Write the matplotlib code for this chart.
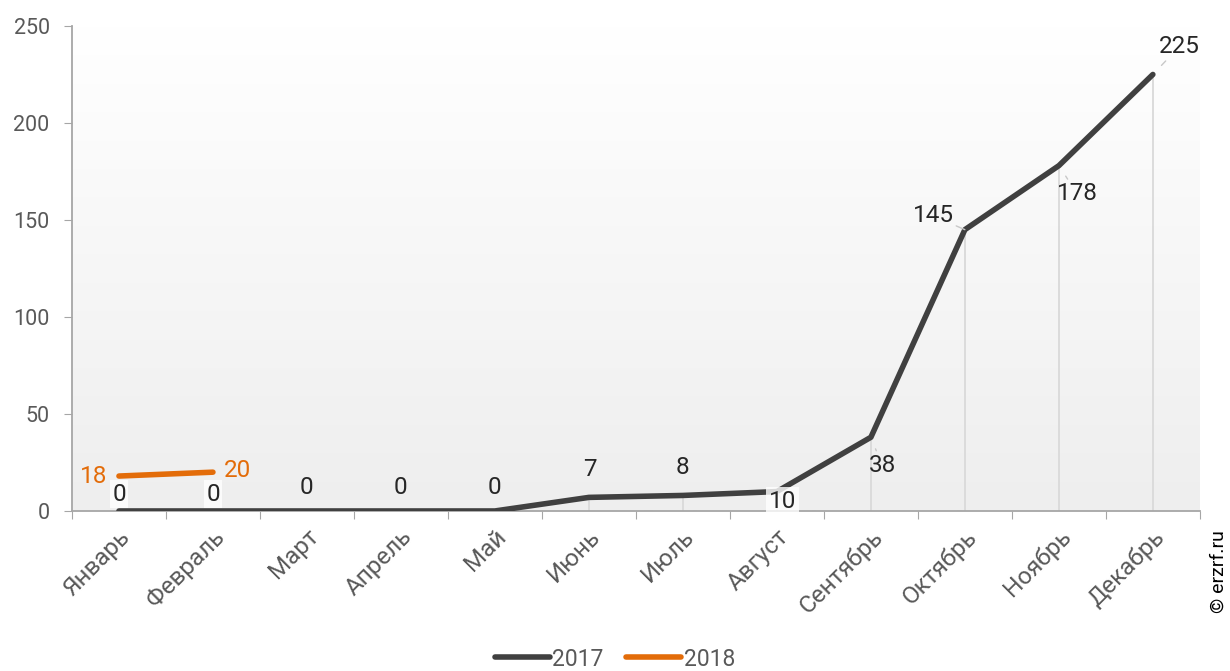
"""Ввод жилья по месяцам: 2017 vs 2018."""

import numpy as np
import matplotlib

matplotlib.use("Agg")
import matplotlib.pyplot as plt
from matplotlib.colors import LinearSegmentedColormap

plt.rcParams["font.family"] = ["Roboto", "DejaVu Sans"]

months = ["Январь", "Февраль", "Март", "Апрель", "Май", "Июнь",
          "Июль", "Август", "Сентябрь", "Октябрь", "Ноябрь", "Декабрь"]
values_2017 = [0, 0, 0, 0, 0, 7, 8, 10, 38, 145, 178, 225]
values_2018 = [18, 20]
y_ticks = [0, 50, 100, 150, 200, 250]

# label placement (offset in points, with leader line or not)
offsets_2017 = [(0, 12), (0, 12), (0, 17), (0, 17), (0, 17), (1, 20),
                (0, 20), (4, -7), (8, -20), (-23, 10), (13, -20), (19, 20)]
leaders_2017 = [False, False, False, False, False, False,
                False, True, True, True, True, True]
boxed_2017 = [True, True, False, False, False, False,
              False, True, False, False, False, False]
offsets_2018 = [(-18, 0), (18, 1)]

DARK = "#404040"
ORANGE = "#e36c09"
TICK = "#595959"
GRID = "#d9d9d9"

fig = plt.figure(figsize=(12.3, 6.71), dpi=100)
ax = fig.add_axes([0.0585, 0.2385, 0.917, 0.7228])

x = np.arange(len(months)) + 0.5
x18 = x[: len(values_2018)]

# gradient background
grad = LinearSegmentedColormap.from_list("bg", ["#ffffff", "#eeeeee"])
ax.imshow(np.linspace(0, 1, 256).reshape(-1, 1), cmap=grad, aspect="auto",
          extent=[0, 12, 0, 250], origin="upper", zorder=0)

# drop lines
ax.vlines(x, 0, values_2017, color=GRID, lw=1.3, zorder=1)

ax.plot(x, values_2017, color=DARK, lw=4, solid_capstyle="round",
        solid_joinstyle="round", zorder=3, label="2017")
ax.plot(x18, values_2018, color=ORANGE, lw=4, solid_capstyle="round",
        zorder=3, label="2018")

for xi, v, off, lead, box in zip(x, values_2017, offsets_2017, leaders_2017, boxed_2017):
    kw = {}
    if lead:
        kw["arrowprops"] = dict(arrowstyle="-", color="#c8c8c8", lw=1,
                                shrinkA=0, shrinkB=9)
    if box:
        kw["bbox"] = dict(boxstyle="square,pad=0.1", fc="white", ec="none", alpha=0.8)
    ax.annotate(str(v), (xi, v), xytext=off, textcoords="offset points",
                ha="center", va="center", fontsize=17.5, color="#262626", zorder=4, **kw)

for xi, v, off in zip(x18, values_2018, offsets_2018):
    ax.annotate(str(v), (xi, v), xytext=off, textcoords="offset points",
                ha="center", va="center", fontsize=17.5, color=ORANGE, zorder=4)

ax.set_xlim(0, 12)
ax.set_ylim(0, 250)
ax.set_yticks(y_ticks)
ax.set_yticklabels([str(t) for t in y_ticks], fontsize=15.5, color=TICK)
ax.set_xticks(np.arange(0, 13))
ax.set_xticklabels([])
ax.set_xticks(x, minor=True)
ax.set_xticklabels(months, minor=True, rotation=45, ha="right",
                   rotation_mode="anchor", fontsize=17.5, color=TICK)
ax.tick_params(axis="x", which="minor", length=0, pad=10)
ax.tick_params(axis="x", which="major", length=6, color="#a6a6a6", direction="out")
ax.tick_params(axis="y", length=6, color="#a6a6a6", pad=10)

for side in ["top", "right"]:
    ax.spines[side].set_visible(False)
for side in ["left", "bottom"]:
    ax.spines[side].set_color("#a6a6a6")
    ax.spines[side].set_linewidth(1.3)

fig.legend(loc="lower center", bbox_to_anchor=(0.5, -0.03), ncol=2, frameon=False,
           fontsize=16.5, labelcolor=TICK, handlelength=2.4, handletextpad=0.1,
           columnspacing=1.0)

fig.text(0.991, 0.1475, "© erzrf.ru", rotation=90, ha="center", va="center",
         fontsize=14, color="black")

fig.savefig("out.png", dpi=100)
